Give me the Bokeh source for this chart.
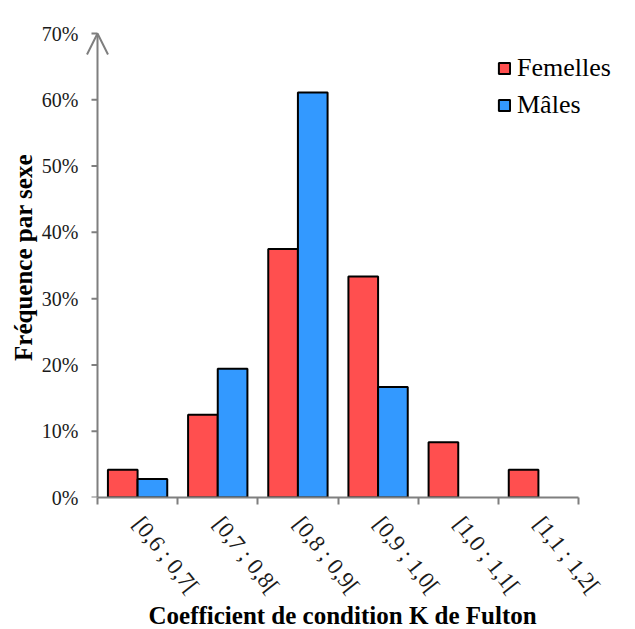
import numpy as np
from bokeh.plotting import figure
from bokeh.models import (ColumnDataSource, FixedTicker, NumeralTickFormatter, Range1d,
                          Arrow, OpenHead, Legend, LegendItem, Title)
from bokeh.embed import file_html
from bokeh.resources import INLINE

categories = ["[0,6 ; 0,7[", "[0,7 ; 0,8[", "[0,8 ; 0,9[", "[0,9 ; 1,0[", "[1,0 ; 1,1[", "[1,1 ; 1,2["]
femelles = [0.0417, 0.125, 0.375, 0.3333, 0.0833, 0.0417]
males = [0.0278, 0.1944, 0.6111, 0.1667, 0.0, 0.0]
y_ticks = [0.0, 0.1, 0.2, 0.3, 0.4, 0.5, 0.6, 0.7]

FONT = "Liberation Serif"
RED = "#FF4F4F"
BLUE = "#3399FF"
GRAY = "#7F7F7F"

W, H = 633, 627
n = len(categories)
y_max = 0.7
centers = np.arange(n) + 0.5
bar_w = 0.37

# layout in pixels (canvas): axes origin at (97, 497), x axis to 578, 70% at 33
AX_L, AX_R, AX_B, AX_T = 97, 578, 497, 33
FRAME_L, FRAME_T = 83, 17
TICK_LEN = 6
px_x = n / (AX_R - AX_L)
x_start = -(AX_L - FRAME_L) * px_x
x_end = (W - AX_L) * px_x
y_end = y_max * (AX_B - FRAME_T) / (AX_B - AX_T)

# empty bars get no outline
src_f = ColumnDataSource(dict(x=centers - bar_w / 2, top=femelles,
                              la=[1.0 if v > 0 else 0.0 for v in femelles]))
src_m = ColumnDataSource(dict(x=centers + bar_w / 2, top=males,
                              la=[1.0 if v > 0 else 0.0 for v in males]))

p = figure(width=W, height=H, output_backend="svg", toolbar_location=None,
           x_range=Range1d(x_start, x_end), y_range=Range1d(0, y_end),
           min_border_left=FRAME_L, min_border_right=0, min_border_top=FRAME_T,
           min_border_bottom=H - AX_B)

p.grid.visible = False
p.outline_line_color = None

rf = p.vbar(x="x", top="top", width=bar_w, bottom=0, source=src_f,
            fill_color=RED, line_color="black", line_width=2, line_alpha="la")
rm = p.vbar(x="x", top="top", width=bar_w, bottom=0, source=src_m,
            fill_color=BLUE, line_color="black", line_width=2, line_alpha="la")

# Y axis: labels and title from Bokeh's axis; line and tick marks at x = 0
ya = p.yaxis[0]
ya.bounds = (0, y_max)
ya.ticker = FixedTicker(ticks=y_ticks)
ya.formatter = NumeralTickFormatter(format="0%")
ya.axis_line_color = None
ya.major_tick_line_color = None
ya.major_tick_out = 0
ya.major_tick_in = 0
ya.minor_tick_line_color = None
ya.major_label_text_font = FONT
ya.major_label_text_font_size = "20px"
ya.major_label_text_color = "#1a1a1a"
ya.major_label_standoff = 5
ya.axis_label = "Fréquence par sexe"
ya.axis_label_text_font = FONT
ya.axis_label_text_font_size = "25px"
ya.axis_label_text_font_style = "bold"
ya.axis_label_text_color = "black"
ya.axis_label_standoff = 2

p.segment(x0=[-TICK_LEN * px_x] * len(y_ticks), x1=[0] * len(y_ticks),
          y0=y_ticks, y1=y_ticks, line_color=GRAY, line_width=2)

# X axis
xa = p.xaxis[0]
xa.bounds = (0, n)
xa.ticker = FixedTicker(ticks=list(centers), minor_ticks=list(range(n + 1)))
xa.major_label_overrides = {float(c): lab for c, lab in zip(centers, categories)}
xa.axis_line_color = GRAY
xa.axis_line_width = 2
xa.major_tick_line_color = None
xa.minor_tick_line_color = GRAY
xa.minor_tick_line_width = 2
xa.minor_tick_out = 7
xa.minor_tick_in = 0
xa.major_label_orientation = -0.9
xa.major_label_text_font = FONT
xa.major_label_text_font_size = "23px"
xa.major_label_text_color = "#1a1a1a"
xa.major_label_standoff = 15

# X axis title (centred on the drawn axis, not on the wider frame)
p.add_layout(Title(text="Coefficient de condition K de Fulton", align="left",
                   vertical_align="top",
                   offset=148 - FRAME_L, text_font=FONT, text_font_size="25px",
                   text_font_style="bold", text_color="black", standoff=-15), "below")

# Y axis line with its arrow head
p.add_layout(Arrow(x_start=0, y_start=0, x_end=0, y_end=y_max,
                   line_color=GRAY, line_width=2,
                   end=OpenHead(size=21, line_color=GRAY, line_width=2)))

legend = Legend(items=[LegendItem(label="Femelles", renderers=[rf]),
                       LegendItem(label="Mâles", renderers=[rm])],
                location=(497 - FRAME_L, 377), padding=0, spacing=7,
                glyph_width=14, glyph_height=14, label_height=30,
                label_standoff=6,
                label_text_font=FONT, label_text_font_size="26px",
                label_text_color="black",
                border_line_color=None, background_fill_alpha=0)
p.add_layout(legend)

open("out.html", "w").write(file_html(p, INLINE))
